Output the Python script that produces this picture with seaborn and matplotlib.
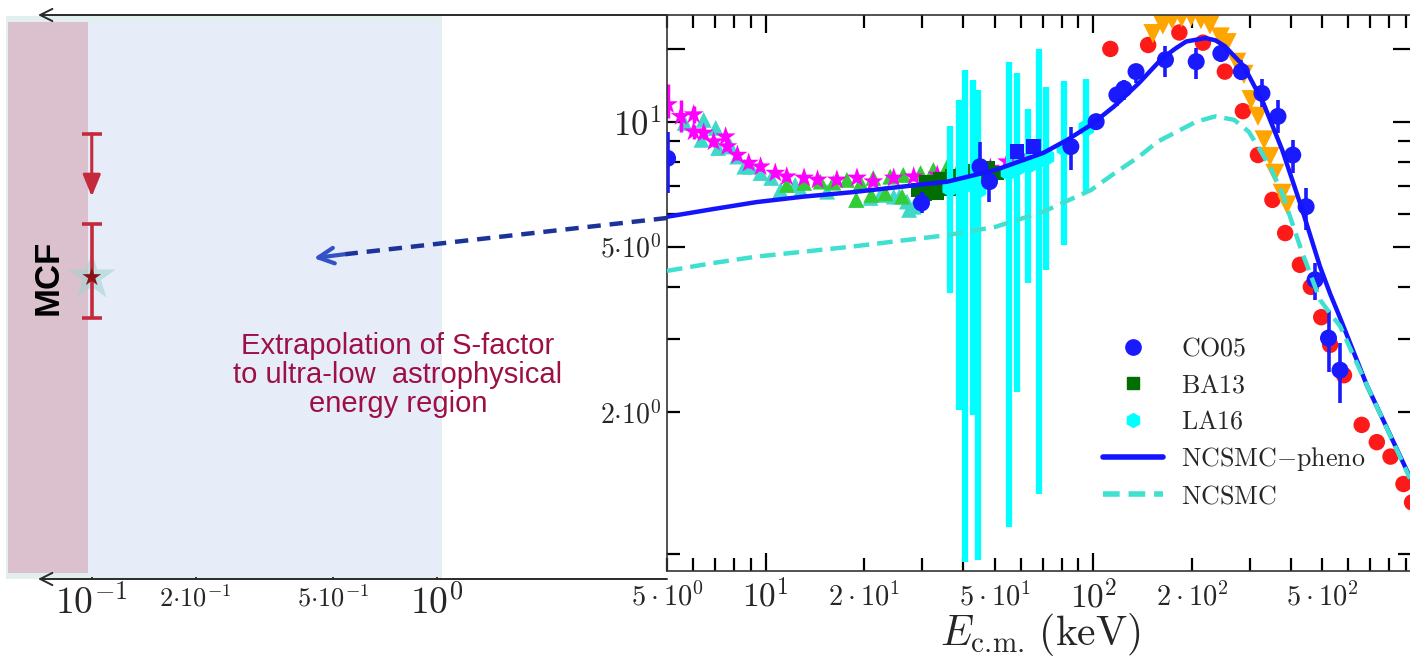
import matplotlib
matplotlib.use('Agg')
import matplotlib.pyplot as plt
import seaborn as sns
from matplotlib.lines import Line2D
from matplotlib.ticker import FixedLocator, FixedFormatter

# S-factor (MeV b) vs E_cm (keV)

# NCSMC-pheno curve
pheno_e = [5.0, 6.85, 9.37, 13.1, 18.3, 35.9, 50.3, 70.4, 83.3, 98.3, 116, 138, 162, 178, 192, 220, 236, 252,
           288, 330, 377, 431, 492, 528, 566, 683, 926]
pheno_s = [5.90, 6.15, 6.40, 6.60, 6.76, 7.17, 7.65, 8.41, 9.04, 9.82, 10.9, 12.4, 14.2, 15.0, 15.6, 15.9, 15.7, 15.2,
           13.6, 11.1, 8.55, 6.24, 4.47, 3.85, 3.37, 2.32, 1.39]

# NCSMC curve
ncsmc_e = [5.0, 6.85, 9.37, 18.3, 35.9, 50.3, 70.4, 98.3, 116, 138, 157, 180, 206, 236, 269, 298, 318, 346,
           377, 431, 492, 528, 566, 683, 926]
ncsmc_s = [4.37, 4.56, 4.73, 5.00, 5.33, 5.58, 6.07, 6.84, 7.51, 8.24, 8.95, 9.46, 10.0, 10.3, 10.1, 9.46, 8.71, 7.79,
           6.72, 4.91, 3.72, 3.45, 3.22, 2.32, 1.38]

# CO05
co05_e = [5.02, 29.9, 45.1, 48.2, 85.4, 102, 118, 124, 135, 166, 206, 245, 283, 327, 366, 406, 446, 475, 522, 566]
co05_s = [8.16, 6.37, 7.79, 7.17, 8.71, 10.0, 11.6, 12.0, 13.2, 14.1, 13.95, 14.6, 13.2, 11.7, 10.3, 8.31, 6.24, 4.16, 3.01, 2.52]
co05_lo = [6.73, 6.03, 7.52, 6.42, 7.65, 9.55, 10.9, 11.3, 12.4, 12.8, 12.7, 13.95, 12.6, 10.85, 9.39, 7.52, 5.48, 3.72, 2.50, 2.10]
co05_hi = [9.46, 6.78, 8.95, 7.44, 9.73, 10.3, 11.9, 12.6, 13.7, 15.2, 15.05, 15.2, 14.1, 12.7, 11.3, 9.04, 6.92, 4.56, 3.52, 2.93]

# BA13
ba13_e = [29.3, 30.5, 31.8, 33.2, 34.6, 36.1, 37.7, 39.3, 41.0, 42.8, 44.6, 46.5, 48.5, 50.6, 31.0, 34.0, 37.0, 40.0, 43.5, 47.5]
ba13_s = [6.84, 6.70, 6.88, 6.75, 7.04, 6.90, 7.12, 6.95, 7.20, 7.10, 7.32, 7.20, 7.44, 7.52, 7.15, 7.25, 7.40, 7.50, 7.60, 7.70]

# LA16
la16_e = [36.6, 38.8, 40.7, 42.8, 44.6, 55.1, 58.3, 63.4, 68.5, 71.9, 81.6, 95.2]
la16_s = [6.92, 7.00, 7.04, 7.08, 6.84, 7.56, 7.73, 7.86, 8.09, 8.22, 8.64, 9.66]
la16_lo = [3.87, 2.02, 0.869, 1.97, 0.879, 1.055, 2.23, 4.09, 1.27, 4.39, 5.05, 6.73]
la16_hi = [9.76, 11.3, 13.3, 12.6, 11.9, 13.9, 13.1, 10.7, 15.0, 12.1, 12.5, 12.7]

# other data sets (not in the legend)
red_e = [112.7, 147, 183, 216, 252, 286, 318, 352, 385, 427, 461, 496, 528, 582, 659, 733, 807, 884, 939]
red_s = [14.97, 15.3, 16.4, 15.5, 13.2, 10.6, 8.31, 6.48, 5.39, 4.52, 4.00, 3.38, 2.90, 2.45, 1.86, 1.69, 1.56, 1.34, 1.21]

orange_e = [152, 163, 174, 186, 199, 213, 227, 244, 256, 274, 288, 303, 318, 332, 346, 358, 377, 390]
orange_s = [16.3, 17.1, 17.6, 17.8, 17.9, 17.6, 17.1, 16.0, 15.5, 13.9, 13.0, 11.3, 10.3, 9.04, 8.24, 7.51, 6.72, 6.30]

tri_e = [5.66, 6.37, 6.47, 7.04, 7.16, 7.82, 8.19, 8.61, 9.00, 9.65, 10.4, 11.1, 12.3, 12.8, 15.4, 18.9, 20.9, 22.4, 24.6, 25.6, 27.0, 27.4, 28.3]
tri_s = [9.93, 9.04, 10.1, 9.66, 8.64, 8.71, 8.24, 7.79, 7.79, 7.52, 7.32, 6.84, 7.04, 6.84, 6.78, 6.48, 6.55, 6.66, 6.60, 6.60, 6.42, 6.13, 6.24]

lime_e = [11.6, 13.1, 14.7, 16.1, 17.7, 18.9, 19.5, 21.0, 21.3, 23.2, 24.0, 26.1, 26.3, 29.7, 32.5, 35.8, 39.3, 43.1]
lime_s = [7.04, 7.12, 7.17, 7.13, 7.24, 6.48, 7.12, 6.66, 7.32, 6.72, 7.37, 6.60, 7.44, 7.52, 7.65, 7.79, 7.86, 7.79]

star_e = [5.03, 5.51, 6.03, 6.03, 6.47, 6.94, 7.55, 7.64, 8.20, 8.88, 9.65, 10.7, 11.6, 13.1, 14.4, 16.5, 19.0, 21.3, 24.6, 28.3, 33.4, 41.2, 48.5, 54.6, 59.9]
star_s = [11.0, 10.3, 10.4, 9.46, 9.39, 8.95, 9.20, 8.71, 8.31, 7.95, 7.79, 7.52, 7.37, 7.32, 7.24, 7.24, 7.32, 7.17, 7.32, 7.37, 7.44, 7.58, 7.73, 8.01, 8.24]
star_lo = [10.2, 9.46, 9.9, 9.1, 9.1, 8.7, 8.95, 8.5, 8.1, 7.75, 7.6, 7.35, 7.2, 7.15, 7.07, 7.07, 7.15, 7.0, 7.15, 7.2, 7.27, 7.4, 7.55, 7.82, 8.05]
star_hi = [12.3, 11.3, 10.9, 9.8, 9.7, 9.2, 9.45, 8.92, 8.52, 8.15, 7.98, 7.7, 7.55, 7.5, 7.42, 7.42, 7.5, 7.35, 7.5, 7.55, 7.62, 7.77, 7.92, 8.2, 8.43]

sq_e = [58.5, 65.6]
sq_s = [8.47, 8.71]

# MCF point, left panel
mcf_e = [0.1]
mcf_s = [4.22]
mcf_lo = [3.36]
mcf_hi = [5.66]
mcf_limit_top = 9.35
mcf_limit_tip = 6.60

# extrapolation arrow (start at panel joint, tip)
extrap_e = [4.65, 0.538]
extrap_s = [5.86, 4.79]
extrap_tip = (0.44, 4.69)

sns.set_style('ticks')
plt.rcParams['mathtext.fontset'] = 'cm'
plt.rcParams['font.family'] = ['DejaVu Sans']

W, H = 1410, 662
fig = plt.figure(figsize=(W / 100, H / 100), dpi=100)


def box(l, t, r, b):
    return [l / W, 1 - b / H, (r - l) / W, (b - t) / H]


# ---------------- left panel ----------------
ax_l = fig.add_axes(box(0, 15, 667, 579))
ax_l.set_xscale('log')
ax_l.set_yscale('log')
ax_l.set_xlim(0.0542, 4.65)
ax_l.set_ylim(0.791, 18.07)
ax_l.patch.set_alpha(0)
for sp in ax_l.spines.values():
    sp.set_visible(False)

ax_l.axvspan(0.0563, 1.035, ymin=0.0, ymax=0.998, color='#e3eeee', lw=0, zorder=0)
ax_l.axvspan(0.0573, 0.0972, ymin=0.0106, ymax=0.9876, color='#dbc1cd', lw=0, zorder=1)
ax_l.axvspan(0.0972, 1.021, ymin=0.0035, ymax=0.9876, color='#e6ecf8', lw=0, zorder=1)

ax_l.xaxis.set_major_locator(FixedLocator([0.1, 1.0]))
ax_l.xaxis.set_major_formatter(FixedFormatter([r'$10^{-1}$', r'$10^{0}$']))
ax_l.xaxis.set_minor_locator(FixedLocator([0.2, 0.5]))
ax_l.xaxis.set_minor_formatter(FixedFormatter([r'$2{\cdot}10^{-1}$', r'$5{\cdot}10^{-1}$']))
ax_l.tick_params(axis='x', which='both', direction='in', length=10, width=1.3,
                 color='#222222', pad=5, bottom=True, top=False)
ax_l.tick_params(axis='x', which='major', labelsize=27)
ax_l.tick_params(axis='x', which='minor', labelsize=19)
ax_l.yaxis.set_visible(False)

# axis lines with open arrow heads
for yy in (1.0, 0.0):
    ax_l.annotate('', xy=(38 / 667, yy), xycoords='axes fraction', xytext=(1.0, yy),
                  arrowprops=dict(arrowstyle='->', color='#2a2a2a', lw=1.4,
                                  mutation_scale=22, shrinkA=0, shrinkB=0),
                  annotation_clip=False)

# MCF measurement
red = '#c42a3c'
ax_l.errorbar(mcf_e, mcf_s, yerr=[[mcf_s[0] - mcf_lo[0]], [mcf_hi[0] - mcf_s[0]]],
              fmt='none', ecolor=red, elinewidth=2.6, capsize=7, capthick=2.6, zorder=4)
ax_l.annotate('', xy=(mcf_e[0], mcf_limit_tip), xytext=(mcf_e[0], mcf_limit_top),
              arrowprops=dict(arrowstyle='-|>,head_width=0.45,head_length=1.1', color=red,
                              lw=2.2, mutation_scale=12, shrinkA=0, shrinkB=0), zorder=4)
ax_l.plot(mcf_e, [mcf_limit_top], marker='_', ms=14, mew=2.6, color=red, zorder=4)
sns.scatterplot(x=mcf_e, y=mcf_s, ax=ax_l, marker='*', s=1300, color='#9fd3cf',
                alpha=0.55, edgecolor='none', linewidth=0, zorder=3)
sns.scatterplot(x=mcf_e, y=mcf_s, ax=ax_l, marker='*', s=200, color='#8b1218',
                edgecolor='none', linewidth=0, zorder=5)

# dashed extrapolation arrow
ax_l.plot(extrap_e, extrap_s, color='#1c3399', lw=3.2, ls=(0, (3, 2)), zorder=4)
ax_l.annotate('', xy=extrap_tip, xytext=(extrap_e[1], extrap_s[1]),
              arrowprops=dict(arrowstyle='->', color='#3352c8', lw=3,
                              mutation_scale=28, shrinkA=0, shrinkB=0), zorder=4)

fig.text(48 / W, 1 - 277 / H, 'MCF', rotation=90, fontsize=25, fontweight='bold',
         family='Liberation Sans', ha='center', va='center', color='black')
fig.text(398 / W, 1 - 375 / H,
         'Extrapolation of S-factor\nto ultra-low  astrophysical\nenergy region',
         fontsize=21, family='Liberation Sans', color='#9e0f45', ha='center', va='center',
         multialignment='center', linespacing=1.05)

# ---------------- right panel ----------------
ax = fig.add_axes(box(667, 15, 1411, 571))
ax.set_xscale('log')
ax.set_yscale('log')

sns.scatterplot(x=red_e, y=red_s, ax=ax, marker='o', s=140, color='#ff1a1a',
                edgecolor='none', linewidth=0, zorder=2)
sns.scatterplot(x=orange_e, y=orange_s, ax=ax, marker='v', s=190, color='#ffa500',
                edgecolor='none', linewidth=0, zorder=2)
sns.scatterplot(x=tri_e, y=tri_s, ax=ax, marker='^', s=130, color='#40d8c8',
                edgecolor='none', linewidth=0, zorder=2)
sns.scatterplot(x=lime_e, y=lime_s, ax=ax, marker='^', s=130, color='#32cd32',
                edgecolor='none', linewidth=0, zorder=2)
ax.vlines(star_e, star_lo, star_hi, color='#ff00ff', lw=2.5, zorder=2)
sns.scatterplot(x=star_e, y=star_s, ax=ax, marker='*', s=230, color='#ff00ff',
                edgecolor='none', linewidth=0, zorder=2)
sns.scatterplot(x=ba13_e, y=ba13_s, ax=ax, marker='s', s=110, color='#006e00',
                edgecolor='none', linewidth=0, zorder=3)
ax.vlines(la16_e, la16_lo, la16_hi, color='#00ffff', lw=4.5, zorder=3)
sns.scatterplot(x=la16_e, y=la16_s, ax=ax, marker='h', s=170, color='#00ffff',
                edgecolor='none', linewidth=0, zorder=3)
sns.scatterplot(x=sq_e, y=sq_s, ax=ax, marker='s', s=110, color='#1a1aff',
                edgecolor='none', linewidth=0, zorder=3)
ax.vlines(co05_e, co05_lo, co05_hi, color='#1a1aff', lw=2.6, zorder=4)
sns.scatterplot(x=co05_e, y=co05_s, ax=ax, marker='o', s=150, color='#1a1aff',
                edgecolor='none', linewidth=0, zorder=4)

sns.lineplot(x=pheno_e, y=pheno_s, ax=ax, color='#1414ff', lw=3.2, sort=False,
             estimator=None, zorder=5)
sns.lineplot(x=ncsmc_e, y=ncsmc_s, ax=ax, color='#40e0d0', lw=3.2, sort=False,
             estimator=None, linestyle=(0, (3.5, 1.8)), zorder=6)

ax.set_xlim(5.0, 932)
ax.set_ylim(0.827, 18.07)

ax.xaxis.set_major_locator(FixedLocator([10, 100]))
ax.xaxis.set_major_formatter(FixedFormatter([r'$10^1$', r'$10^2$']))
x_minor = [5, 6, 7, 8, 9, 20, 30, 40, 50, 60, 70, 80, 90, 200, 300, 400, 500, 600, 700, 800, 900]
x_minor_lab = {5: r'$5\cdot10^0$', 20: r'$2\cdot10^1$', 50: r'$5\cdot10^1$',
               200: r'$2\cdot10^2$', 500: r'$5\cdot10^2$'}
ax.xaxis.set_minor_locator(FixedLocator(x_minor))
ax.xaxis.set_minor_formatter(FixedFormatter([x_minor_lab.get(v, '') for v in x_minor]))

ax.yaxis.set_major_locator(FixedLocator([5, 10, 15]))
ax.yaxis.set_major_formatter(FixedFormatter([r'$5{\cdot}10^0$', r'$10^1$', '']))
y_minor = [0.908, 2, 3, 4, 6, 7, 8, 9]
ax.yaxis.set_minor_locator(FixedLocator(y_minor))
ax.yaxis.set_minor_formatter(FixedFormatter(['', r'$2{\cdot}10^0$', '', '', '', '', '', '']))

ax.tick_params(which='both', direction='in', top=True, right=True, color='black', width=1.6)
ax.tick_params(which='major', length=13)
ax.tick_params(which='minor', length=9.5)
ax.tick_params(axis='x', which='major', labelsize=24, pad=6)
ax.tick_params(axis='x', which='minor', labelsize=20.5, pad=8)
ax.tick_params(axis='y', which='major', labelsize=25, pad=4)
ax.tick_params(axis='y', which='minor', labelsize=20, pad=4)
for t in ax.get_yticklabels():
    if '5' in t.get_text():
        t.set_fontsize(20)
for sp in ax.spines.values():
    sp.set_color('#333333')
    sp.set_linewidth(1.2)
ax.set_xlabel('')
ax.set_ylabel('')

fig.text(1040 / W, 1 - 635 / H, r'$E_{\mathrm{c.\!m.}}\,(\mathrm{keV})$', fontsize=30,
         ha='center', va='center')

handles = [
    Line2D([], [], ls='none', marker='o', ms=11, color='#1a1aff'),
    Line2D([], [], ls='none', marker='s', ms=9, color='#006e00'),
    Line2D([], [], ls='none', marker='h', ms=10, color='#00ffff'),
    Line2D([], [], color='#1414ff', lw=4),
    Line2D([], [], color='#40e0d0', lw=4, ls=(0, (3, 1.6))),
]
labels = [r'$\mathrm{CO05}$', r'$\mathrm{BA13}$', r'$\mathrm{LA16}$',
          r'$\mathrm{NCSMC{-}pheno}$', r'$\mathrm{NCSMC}$']
ax.legend(handles, labels, loc='upper left', bbox_to_anchor=((1103 - 667) / 744, (571 - 336) / 556),
          frameon=False, fontsize=18.7, handlelength=2.3, handletextpad=0.7, labelspacing=0.4,
          borderpad=0, borderaxespad=0)

fig.savefig('out.png', dpi=100)
